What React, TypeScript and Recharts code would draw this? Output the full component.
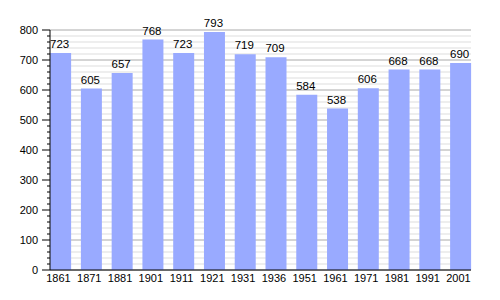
import { BarChart, Bar, XAxis, YAxis, CartesianGrid, LabelList } from "recharts";

const years = ["1861", "1871", "1881", "1901", "1911", "1921", "1931", "1936", "1951", "1961", "1971", "1981", "1991", "2001"];
const population = [723, 605, 657, 768, 723, 793, 719, 709, 584, 538, 606, 668, 668, 690];
const majorTicks = [0, 100, 200, 300, 400, 500, 600, 700, 800];
const minorTicks = [
  20, 40, 60, 80, 120, 140, 160, 180, 220, 240, 260, 280, 320, 340, 360, 380,
  420, 440, 460, 480, 520, 540, 560, 580, 620, 640, 660, 680, 720, 740, 760, 780,
];
const allTicks = [...majorTicks, ...minorTicks].sort((a, b) => a - b);

const data = years.map((year, i) => ({ year, population: population[i] }));

const font = "'Liberation Sans', Arial, sans-serif";
const narrow = "'Liberation Sans Narrow', 'Arial Narrow', 'Liberation Sans', sans-serif";

// y ticks: long mark + label on hundreds, short mark on the rest
const YTick = (props: any) => {
  const { x, y, payload } = props;
  const major = payload.value % 100 === 0;
  return (
    <g>
      <line x1={x - (major ? 8 : 3)} y1={y} x2={x} y2={y} stroke="#000" strokeWidth={1} />
      {major && (
        <text x={x - 12} y={y} dy="0.355em" textAnchor="end" fontSize={11} fill="#000" fontFamily={font}>
          {payload.value}
        </text>
      )}
    </g>
  );
};

const App = () => {
  return (
    <div style={{ position: "absolute", left: 0, top: 0, width: 500, height: 300, background: "#fff" }}>
      <BarChart width={500} height={300} data={data} margin={{ top: 30, right: 29, bottom: 6, left: 0 }}>
        <CartesianGrid vertical={false} horizontalValues={minorTicks} stroke="#dddddd" />
        <CartesianGrid vertical={false} horizontalValues={majorTicks} stroke="#aaaaaa" />
        <XAxis
          dataKey="year"
          padding={{ left: -4.88, right: -4.88 }}
          axisLine={{ stroke: "#000" }}
          tickLine={false}
          tickSize={0}
          tickMargin={4}
          height={24}
          interval={0}
          tick={{ fontSize: 11, fill: "#000", fontFamily: narrow, dx: -2 }}
        />
        <YAxis
          domain={[0, 800]}
          ticks={allTicks}
          interval={0}
          width={50}
          axisLine={{ stroke: "#000" }}
          tickLine={false}
          tickSize={0}
          tickMargin={0}
          tick={<YTick />}
        />
        <Bar dataKey="population" fill="#99aaff" barSize={21} isAnimationActive={false}>
          <LabelList dataKey="population" position="top" offset={5} dx={-1} fontSize={11.5} fill="#000" fontFamily={narrow} />
        </Bar>
      </BarChart>
    </div>
  );
};

export default App;
